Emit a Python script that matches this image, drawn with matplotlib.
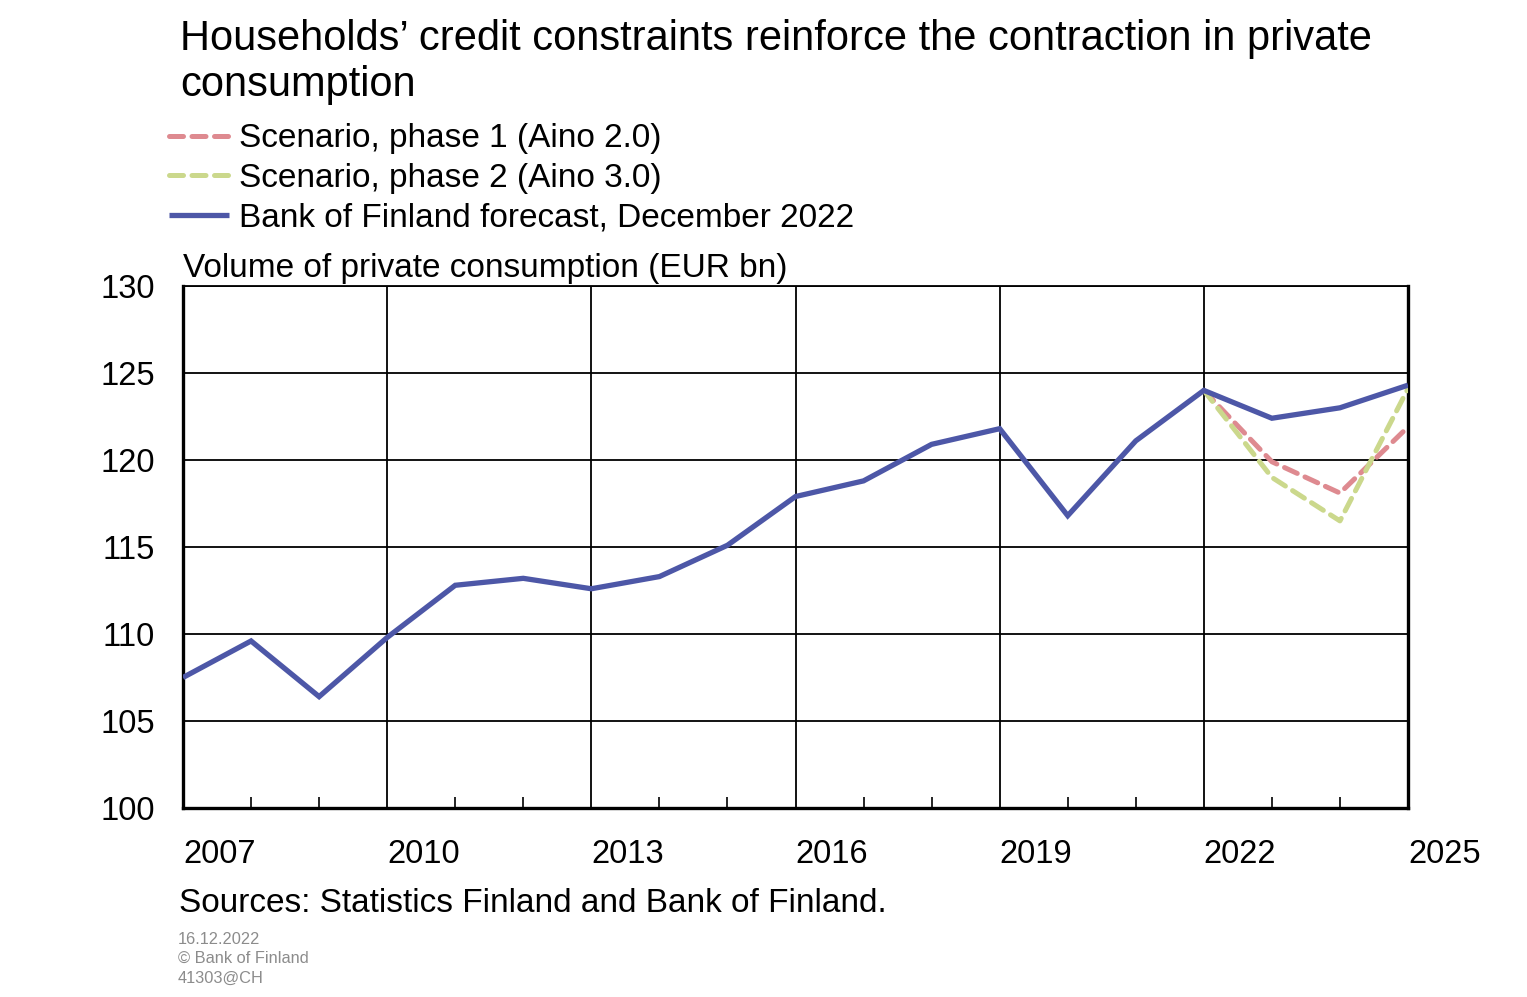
import matplotlib.pyplot as plt
import numpy as np

plt.rcParams['font.family'] = ['Liberation Sans', 'DejaVu Sans']

# data (EUR bn)
years = list(range(2007, 2026))
forecast = [107.5, 109.6, 106.4, 109.8, 112.8, 113.2, 112.6, 113.3, 115.1, 117.9,
            118.8, 120.9, 121.8, 116.8, 121.1, 124.0, 122.4, 123.0, 124.3]
scen_years = [2022, 2023, 2024, 2025]
phase1 = [124.0, 119.9, 118.1, 121.9]
phase2 = [124.0, 119.0, 116.5, 124.1]

blue = '#4D57A7'
red = '#DE8A90'
green = '#CBD88C'

W, H = 1527, 997
fig = plt.figure(figsize=(W / 100, H / 100), dpi=100)
ax = fig.add_axes([183 / W, 1 - 808 / H, (1408 - 183) / W, (808 - 286) / H])

l1, = ax.plot(scen_years, phase1, color=red, lw=3.6, dashes=(2.8, 1.7),
              dash_capstyle='round', zorder=3)
l2, = ax.plot(scen_years, phase2, color=green, lw=3.6, dashes=(2.8, 1.7),
              dash_capstyle='round', zorder=3)
l3, = ax.plot(years, forecast, color=blue, lw=3.8, solid_capstyle='butt',
              solid_joinstyle='miter', zorder=4)

ax.set_xlim(2007, 2025)
ax.set_ylim(100, 130)
ax.set_yticks(np.arange(100, 131, 5))
ax.tick_params(axis='y', length=0, labelsize=23.5, pad=20)

major = list(range(2007, 2026, 3))
ax.set_xticks(major)
ax.set_xticklabels([str(y) for y in major], ha='left')
ax.set_xticks(years, minor=True)
ax.tick_params(axis='x', which='major', length=0, labelsize=23.5, pad=22)
ax.tick_params(axis='x', which='minor', direction='in', length=8, width=1.2)
ax.grid(True, which='major', color='black', lw=1.3)
ax.set_axisbelow(True)

for s in ['left', 'bottom', 'right']:
    ax.spines[s].set_linewidth(2.4)
ax.spines['top'].set_linewidth(1.3)

fig.text(180 / W, 1 - 19 / H,
         'Households\u2019 credit constraints reinforce the contraction in private\nconsumption',
         fontsize=30, va='top', ha='left', linespacing=1.2)

fig.legend([l1, l2, l3],
           ['Scenario, phase 1 (Aino 2.0)', 'Scenario, phase 2 (Aino 3.0)',
            'Bank of Finland forecast, December 2022'],
           loc='upper left', bbox_to_anchor=(166 / W, 1 - 120 / H), frameon=False,
           fontsize=24, handlelength=1.8, handletextpad=0.3, labelspacing=0.26,
           borderaxespad=0, borderpad=0.1)

fig.text(183 / W, 1 - 268 / H, 'Volume of private consumption (EUR bn)',
         fontsize=24, va='center', ha='left')
fig.text(179 / W, 1 - 903 / H, 'Sources: Statistics Finland and Bank of Finland.',
         fontsize=24, va='center', ha='left')
fig.text(178 / W, 1 - 932 / H, '16.12.2022\n\u00a9 Bank of Finland\n41303@CH',
         fontsize=11.8, color='#8C8C8C', va='top', ha='left', linespacing=1.35)

fig.savefig('out.png', dpi=100)
